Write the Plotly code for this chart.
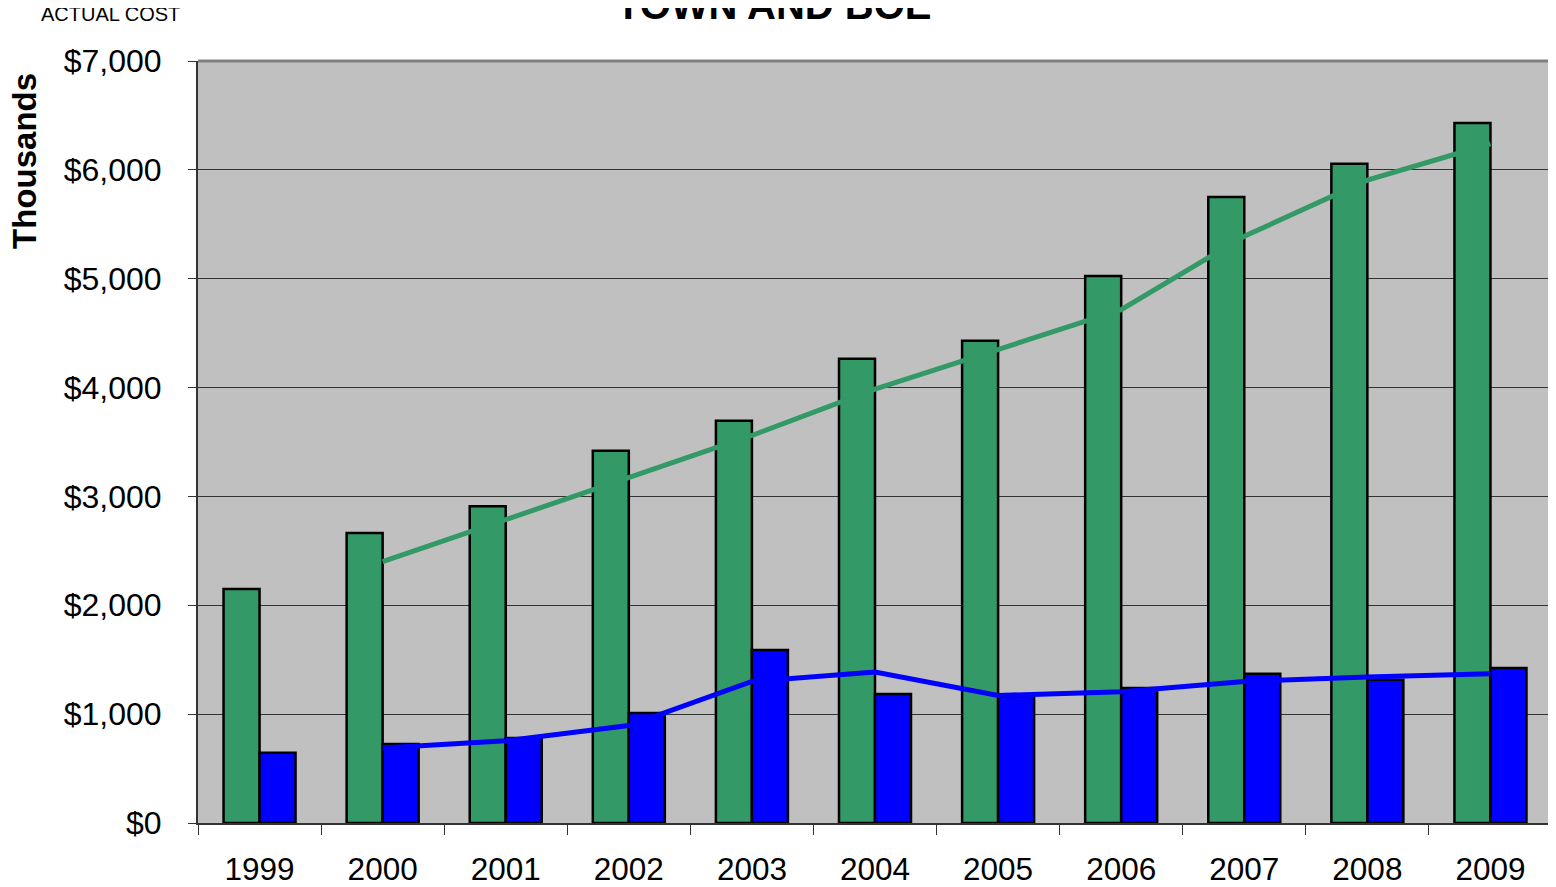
import plotly.graph_objects as go

years = ["1999", "2000", "2001", "2002", "2003", "2004", "2005", "2006", "2007", "2008", "2009"]
town_boe = [2150, 2665, 2910, 3420, 3695, 4265, 4430, 5025, 5750, 6055, 6430]
other = [645, 725, 780, 1010, 1590, 1185, 1160, 1240, 1370, 1315, 1425]
town_boe_trend = [None, 2400, 2790, 3170, 3560, 3985, 4345, 4715, 5390, 5905, 6240]
other_trend = [None, 688, 755, 895, 1300, 1387, 1172, 1205, 1300, 1342, 1372]

GREEN = "#339966"
BLUE = "#0000FF"
FONT = "Liberation Sans, Arial, sans-serif"

fig = go.Figure()
fig.add_trace(go.Bar(x=years, y=town_boe, marker=dict(color=GREEN, line=dict(color="black", width=2.5)), showlegend=False))
fig.add_trace(go.Bar(x=years, y=other, marker=dict(color=BLUE, line=dict(color="black", width=2.5)), showlegend=False))
fig.add_trace(go.Scatter(x=years, y=town_boe_trend, mode="lines", line=dict(color=GREEN, width=5), showlegend=False))
fig.add_trace(go.Scatter(x=years, y=other_trend, mode="lines", line=dict(color=BLUE, width=5), showlegend=False))

fig.update_layout(
    width=1556, height=887,
    margin=dict(l=190, r=12, t=53, b=72),
    paper_bgcolor="white", plot_bgcolor="#C0C0C0",
    barmode="group", bargap=0.415, bargroupgap=0,
    font=dict(family=FONT, color="black", size=31),
    showlegend=False,
)
fig.update_xaxes(
    type="category", tickson="boundaries", ticks="outside", ticklen=10, tickcolor="#333333",
    showgrid=False, showline=True, linecolor="#333333", linewidth=2, automargin=False,
    tickfont=dict(size=31.5, family=FONT), ticklabelstandoff=17,
)
fig.update_yaxes(
    range=[0, 7000], dtick=1000, tickprefix="$", tickformat=",d",
    ticks="outside", ticklen=8, tickcolor="#333333",
    showgrid=True, gridcolor="#333333", gridwidth=1, automargin=False,
    showline=True, linecolor="#333333", linewidth=2, zeroline=False,
    tickfont=dict(size=32, family=FONT), ticklabelstandoff=20,
)
# gray plot border on top and right
fig.add_shape(type="line", xref="paper", yref="paper", x0=0, x1=1, y0=1, y1=1, line=dict(color="#808080", width=3))
fig.add_shape(type="line", xref="paper", yref="paper", x0=1, x1=1, y0=0, y1=1, line=dict(color="#808080", width=3))

fig.add_annotation(text="<b>TOWN AND BOE</b>", xref="paper", yref="paper", x=0.4254, y=1.0735,
                   xanchor="center", yanchor="middle", showarrow=False, font=dict(size=40, family=FONT))
fig.add_annotation(text="ACTUAL COST", xref="paper", yref="paper", x=-0.1174, y=1.0617,
                   xanchor="left", yanchor="middle", showarrow=False, font=dict(size=20, family=FONT))
fig.add_annotation(text="<b>Thousands</b>", xref="paper", yref="paper", x=-0.1278, y=0.8688,
                   xanchor="center", yanchor="middle", textangle=-90, showarrow=False, font=dict(size=33, family=FONT))

fig.write_html("out.html")
